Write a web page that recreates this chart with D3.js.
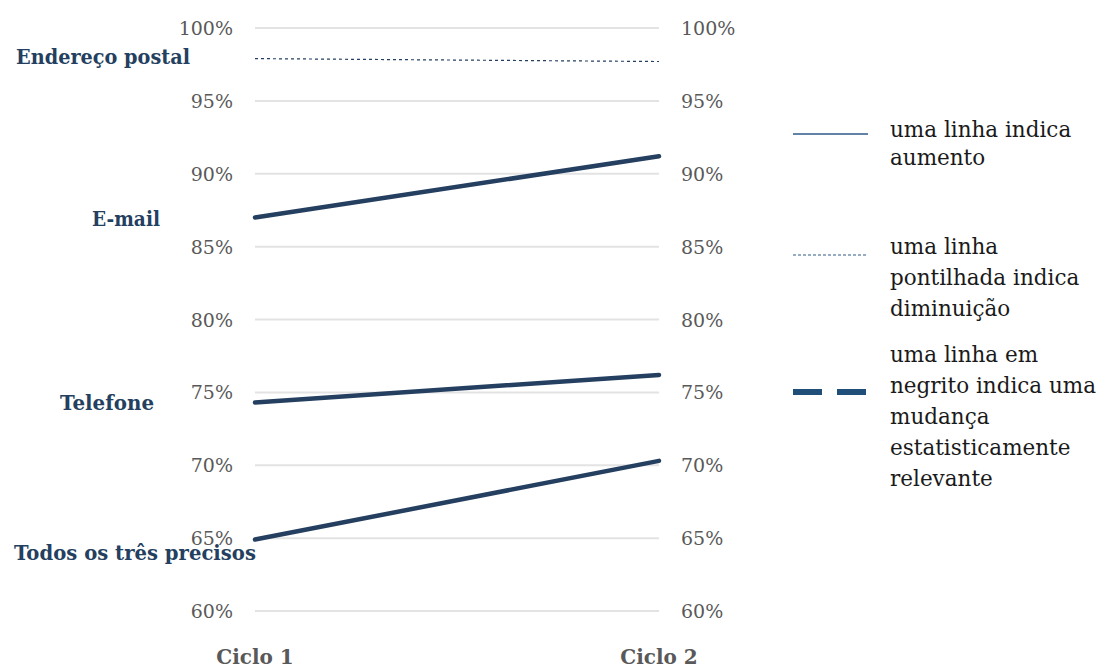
<!DOCTYPE html>
<meta charset="utf-8">
<head>
<style>
body{ margin:0; background:#fff; }
text{ font-family:"DejaVu Serif",serif; }
.tick{ fill:#595959; font-size:19px; }
.cat{ fill:#243f60; font-weight:bold; font-size:19.5px; }
.cycle{ fill:#595959; font-weight:bold; font-size:20px; }
.legend{ fill:#1a1a1a; font-size:21.5px; }
.grid line{ stroke:#e3e3e3; stroke-width:2px; }
</style>
</head>
<body>
<script src="https://d3js.org/d3.v7.min.js"></script>
<script>

var cycles=["Ciclo 1","Ciclo 2"];
var series=["Endereço postal","E-mail","Telefone","Todos os três precisos"];
var cycle1=[97.9,87.0,74.3,64.9];
var cycle2=[97.7,91.2,76.2,70.3];
var trend=["down","up","up","up"];
var ticks=[60,65,70,75,80,85,90,95,100];
var legendItems=[
	["uma linha indica","aumento"],
	["uma linha","pontilhada indica","diminuição"],
	["uma linha em","negrito indica uma","mudança","estatisticamente","relevante"]
];

// label nudges (layout only)
var labelRight=[190,160,154,256];
var labelDy=[-2,2,0,13];
var labelLen=[174,68,94,242];

var svg=d3.select("body").append("svg").attr("width",1108).attr("height",670);

var y=d3.scaleLinear().domain([60,100]).range([611,28]);
var x=d3.scalePoint().domain(cycles).range([255,659]);

var grid=svg.append("g").attr("class","grid");
grid.selectAll("line").data(ticks).enter().append("line")
	.attr("x1",x(cycles[0])).attr("x2",x(cycles[1]))
	.attr("y1",d=>y(d)).attr("y2",d=>y(d));

var fmt=d=>d+"%";
svg.append("g").selectAll("text").data(ticks).enter().append("text")
	.attr("class","tick").attr("x",x(cycles[0])-22).attr("y",d=>y(d)+7)
	.attr("text-anchor","end").text(fmt);
svg.append("g").selectAll("text").data(ticks).enter().append("text")
	.attr("class","tick").attr("x",x(cycles[1])+22).attr("y",d=>y(d)+7)
	.attr("text-anchor","start").text(fmt);

var rows=series.map((s,i)=>({name:s,v:[cycle1[i],cycle2[i]],trend:trend[i],i:i}));
var line=d3.line().x((d,j)=>x(cycles[j])).y(d=>y(d));

svg.append("g").selectAll("path").data(rows).enter().append("path")
	.attr("d",d=>line(d.v))
	.attr("fill","none")
	.attr("stroke","#243f60")
	.attr("stroke-width",d=>d.trend=="up"?4.5:1.2)
	.attr("stroke-dasharray",d=>d.trend=="up"?null:"3,3")
	.attr("stroke-linecap",d=>d.trend=="up"?"round":"butt");

svg.append("g").selectAll("text").data(rows).enter().append("text")
	.attr("class","cat")
	.attr("x",d=>labelRight[d.i]).attr("y",d=>y(d.v[0])+labelDy[d.i]+7)
	.attr("text-anchor","end")
	.attr("textLength",d=>labelLen[d.i]).attr("lengthAdjust","spacingAndGlyphs")
	.text(d=>d.name);

svg.append("g").selectAll("text").data(cycles).enter().append("text")
	.attr("class","cycle").attr("x",d=>x(d)).attr("y",664)
	.attr("text-anchor","middle").text(d=>d);

// legend
var lg=svg.append("g");
var legY=[130,247,355];
var legLineY=[134,255,392];
lg.append("line").attr("x1",793).attr("x2",868).attr("y1",legLineY[0]).attr("y2",legLineY[0])
	.attr("stroke","#2e5a88").attr("stroke-width",1.3);
lg.append("line").attr("x1",793).attr("x2",868).attr("y1",legLineY[1]).attr("y2",legLineY[1])
	.attr("stroke","#2e5a88").attr("stroke-width",1).attr("stroke-dasharray","3,2");
lg.append("line").attr("x1",793).attr("x2",868).attr("y1",legLineY[2]).attr("y2",legLineY[2])
	.attr("stroke","#1f4e79").attr("stroke-width",6).attr("stroke-dasharray","29,15");

legendItems.forEach(function(lines,k){
	lg.selectAll(null).data(lines).enter().append("text")
		.attr("class","legend").attr("x",890)
		.attr("y",(d,j)=>legY[k]+7+j*(k==0?28:31))
		.text(d=>d);
});

</script>
</body>
</html>
